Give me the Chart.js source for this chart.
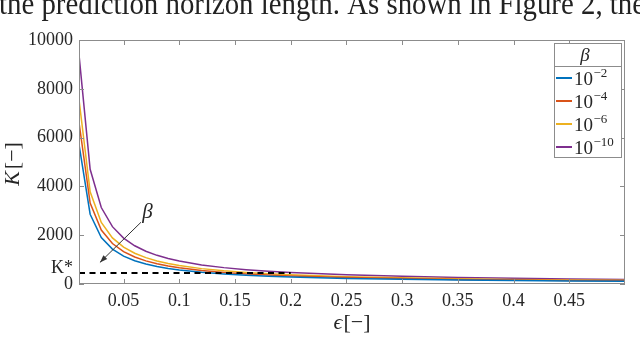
<!DOCTYPE html>
<html>
<head>
<meta charset="utf-8">
<script src="https://cdn.jsdelivr.net/npm/chart.js@4/dist/chart.umd.min.js"></script>
<style>
  html, body { margin: 0; padding: 0; background: #fff; }
  #wrap { position: relative; width: 640px; height: 337px; overflow: hidden; }
</style>
</head>
<body>
<div id="wrap"><canvas id="chart" width="640" height="337"></canvas></div>
<script>
// Sample size K versus violation level epsilon, one curve per confidence beta.

const EPS = [0.01, 0.02, 0.03, 0.04, 0.05, 0.06, 0.07, 0.08, 0.09, 0.1,
             0.12, 0.14, 0.16, 0.18, 0.2, 0.25, 0.3, 0.35, 0.4, 0.45, 0.5];

const K_BETA_2 = [5720, 2860, 1907, 1430, 1144, 953, 817, 715, 636, 572,
                  477, 409, 358, 318, 286, 229, 191, 163, 143, 127, 114];
const K_BETA_4 = [6630, 3315, 2210, 1658, 1326, 1105, 947, 829, 737, 663,
                  553, 474, 414, 368, 332, 265, 221, 189, 166, 147, 133];
const K_BETA_6 = [7560, 3780, 2520, 1890, 1512, 1260, 1080, 945, 840, 756,
                  630, 540, 473, 420, 378, 302, 252, 216, 189, 168, 151];
const K_BETA_10 = [9400, 4700, 3133, 2350, 1880, 1567, 1343, 1175, 1044, 940,
                   783, 671, 588, 522, 470, 376, 313, 269, 235, 209, 188];

const BETA_EXPONENTS = ["\u22122", "\u22124", "\u22126", "\u221210"];
const COLORS = ["#0072BD", "#D95319", "#EDB120", "#7E2F8E"];

// K* reference line
const KSTAR_X = [0.01, 0.2];
const KSTAR_Y = [450, 450];

const X_TICKS = [0.05, 0.1, 0.15, 0.2, 0.25, 0.3, 0.35, 0.4, 0.45];
const X_TICK_LABELS = ["0.05", "0.1", "0.15", "0.2", "0.25", "0.3", "0.35", "0.4", "0.45"];
const Y_TICKS = [0, 2000, 4000, 6000, 8000, 10000];

// arrow annotation "beta increases" (data space)
const ARROW_FROM = { x: 0.0656, y: 2530 };
const ARROW_TO = { x: 0.0288, y: 885 };
const BETA_LABEL = { x: 0.0715, y: 2950 };

const CAPTION = "the prediction horizon length. As shown in Figure 2, the";

const SERIF = "'Liberation Serif', 'DejaVu Serif', serif";
const AXIS_GREY = "#8c8c8c";
const TEXT = "#262626";

const series = [K_BETA_2, K_BETA_4, K_BETA_6, K_BETA_10];

const datasets = series.map((vals, i) => ({
  data: EPS.map((x, j) => ({ x, y: vals[j] })),
  borderColor: COLORS[i],
  borderWidth: 1.5,
  pointRadius: 0,
  tension: 0,
  fill: false,
  order: 2,
}));

datasets.push({
  data: KSTAR_X.map((x, j) => ({ x, y: KSTAR_Y[j] })),
  borderColor: "#000",
  borderWidth: 2,
  borderDash: [6, 4.5],
  pointRadius: 0,
  fill: false,
  order: 1,
});

// ---------------------------------------------------------------------------
// MATLAB-like decorations: box, inner ticks, titles, legend, caption, arrow
// ---------------------------------------------------------------------------
const decorations = {
  id: "decorations",
  afterDraw(chart) {
    const { ctx, chartArea: a, scales } = chart;
    const xs = scales.x, ys = scales.y;
    ctx.save();

    // axes box
    ctx.strokeStyle = AXIS_GREY;
    ctx.lineWidth = 1;
    ctx.strokeRect(a.left + 0.5, a.top + 0.5, a.right - a.left - 1, a.bottom - a.top - 1);

    // inner ticks on all four sides
    const TL = 5;
    ctx.beginPath();
    for (const v of X_TICKS) {
      const px = Math.round(xs.getPixelForValue(v)) + 0.5;
      ctx.moveTo(px, a.bottom); ctx.lineTo(px, a.bottom - TL);
      ctx.moveTo(px, a.top); ctx.lineTo(px, a.top + TL);
    }
    for (const v of Y_TICKS) {
      const py = Math.round(ys.getPixelForValue(v)) + 0.5;
      ctx.moveTo(a.left, py); ctx.lineTo(a.left + TL, py);
      ctx.moveTo(a.right, py); ctx.lineTo(a.right - TL, py);
    }
    ctx.stroke();

    // caption fragment of the surrounding page, cut at the top
    ctx.fillStyle = "#222";
    ctx.font = "31px " + SERIF;
    ctx.textBaseline = "alphabetic";
    ctx.textAlign = "left";
    const w = ctx.measureText(CAPTION).width;
    ctx.save();
    ctx.translate(-1, 14);
    ctx.scale(646 / w, 1);
    ctx.fillText(CAPTION, 0, 0);
    ctx.restore();

    // y axis title: K[−]
    ctx.fillStyle = TEXT;
    ctx.save();
    ctx.translate(19, 164);
    ctx.rotate(-Math.PI / 2);
    ctx.textBaseline = "alphabetic";
    ctx.font = "italic 22px " + SERIF;
    const kW = ctx.measureText("K").width;
    ctx.font = "22px " + SERIF;
    const bW = ctx.measureText("[\u2212]").width;
    const start = -(kW + bW + 2) / 2;
    ctx.font = "italic 22px " + SERIF;
    ctx.fillText("K", start, 0);
    ctx.font = "22px " + SERIF;
    ctx.fillText("[\u2212]", start + kW + 2, 0);
    ctx.restore();

    // x axis title: ϵ[−]
    ctx.font = "italic 22px " + SERIF;
    const eW = ctx.measureText("\u03f5").width;
    ctx.font = "22px " + SERIF;
    const eb = ctx.measureText("[\u2212]").width;
    const ex = (a.left + a.right) / 2 - (eW + eb + 1) / 2;
    ctx.font = "italic 22px " + SERIF;
    ctx.fillText("\u03f5", ex, 329);
    ctx.font = "22px " + SERIF;
    ctx.fillText("[\u2212]", ex + eW + 1, 329);

    // K* label next to the dashed line
    ctx.font = "18px " + SERIF;
    ctx.textAlign = "right";
    ctx.textBaseline = "alphabetic";
    ctx.fillText("K*", a.left - 6, 273);

    // arrow showing direction of decreasing beta
    const x0 = xs.getPixelForValue(ARROW_FROM.x), y0 = ys.getPixelForValue(ARROW_FROM.y);
    const x1 = xs.getPixelForValue(ARROW_TO.x), y1 = ys.getPixelForValue(ARROW_TO.y);
    ctx.strokeStyle = "#333";
    ctx.lineWidth = 1;
    ctx.beginPath();
    ctx.moveTo(x0, y0); ctx.lineTo(x1, y1);
    ctx.stroke();
    const ang = Math.atan2(y1 - y0, x1 - x0);
    ctx.fillStyle = "#333";
    ctx.beginPath();
    ctx.moveTo(x1, y1);
    ctx.lineTo(x1 - 8 * Math.cos(ang - 0.35), y1 - 8 * Math.sin(ang - 0.35));
    ctx.lineTo(x1 - 8 * Math.cos(ang + 0.35), y1 - 8 * Math.sin(ang + 0.35));
    ctx.closePath();
    ctx.fill();

    ctx.fillStyle = TEXT;
    ctx.font = "italic 21px " + SERIF;
    ctx.textAlign = "center";
    ctx.textBaseline = "middle";
    ctx.fillText("\u03b2", xs.getPixelForValue(BETA_LABEL.x), ys.getPixelForValue(BETA_LABEL.y));

    // legend with header row
    const L = { left: 554, right: 622, top: 43, bottom: 158, sep: 66 };
    ctx.fillStyle = "#fff";
    ctx.fillRect(L.left, L.top, L.right - L.left, L.bottom - L.top);
    ctx.strokeStyle = AXIS_GREY;
    ctx.strokeRect(L.left + 0.5, L.top + 0.5, L.right - L.left - 1, L.bottom - L.top - 1);
    ctx.beginPath();
    ctx.moveTo(L.left, L.sep + 0.5); ctx.lineTo(L.right, L.sep + 0.5);
    ctx.stroke();

    ctx.fillStyle = TEXT;
    ctx.font = "italic 19px " + SERIF;
    ctx.textAlign = "center";
    ctx.textBaseline = "middle";
    ctx.fillText("\u03b2", 585, 56);

    BETA_EXPONENTS.forEach((exp, i) => {
      const cy = 78 + i * 23;
      ctx.strokeStyle = COLORS[i];
      ctx.lineWidth = 2;
      ctx.beginPath();
      ctx.moveTo(556, cy); ctx.lineTo(572, cy);
      ctx.stroke();
      ctx.fillStyle = TEXT;
      ctx.textAlign = "left";
      ctx.textBaseline = "alphabetic";
      ctx.font = "19px " + SERIF;
      ctx.fillText("10", 574, cy + 7);
      const tw = ctx.measureText("10").width;
      ctx.font = "13px " + SERIF;
      ctx.fillText(exp, 574 + tw + 0.5, cy - 1);
    });

    ctx.restore();
  },
};

new Chart(document.getElementById("chart"), {
  type: "line",
  data: { datasets },
  options: {
    responsive: false,
    animation: false,
    devicePixelRatio: 1,
    layout: { padding: { top: 40, right: 15, left: 0, bottom: 0 } },
    plugins: { legend: { display: false }, tooltip: { enabled: false } },
    scales: {
      x: {
        type: "linear",
        min: 0.01,
        max: 0.5,
        afterBuildTicks: (s) => { s.ticks = X_TICKS.map((v) => ({ value: v })); },
        afterFit: (s) => { s.height = 53; },
        grid: { display: false, drawTicks: false },
        border: { display: false },
        ticks: {
          autoSkip: false,
          maxRotation: 0,
          padding: 6,
          color: TEXT,
          font: { family: SERIF, size: 18 },
          callback: (v) => X_TICK_LABELS[X_TICKS.indexOf(v)] ?? "",
        },
      },
      y: {
        type: "linear",
        min: 0,
        max: 10000,
        afterBuildTicks: (s) => { s.ticks = Y_TICKS.map((v) => ({ value: v })); },
        afterFit: (s) => { s.width = 79; },
        grid: { display: false, drawTicks: false },
        border: { display: false },
        ticks: {
          padding: 6,
          color: TEXT,
          font: { family: SERIF, size: 18 },
          callback: (v) => String(v),
        },
      },
    },
  },
  plugins: [decorations],
});
</script>
</body>
</html>
